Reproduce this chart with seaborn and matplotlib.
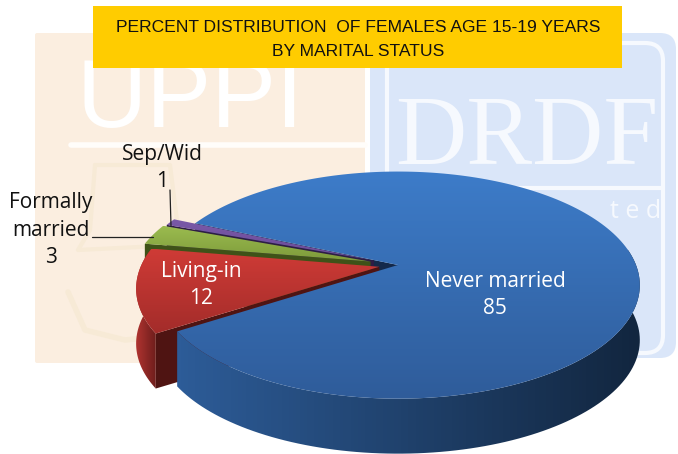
import numpy as np
import seaborn as sns
import matplotlib.pyplot as plt
from matplotlib.patches import Polygon, FancyBboxPatch

# chart data
categories = ['Sep/Wid', 'Formally\nmarried', 'Living-in', 'Never married']
values = [1, 3, 12, 85]
title_lines = ['PERCENT DISTRIBUTION  OF FEMALES AGE 15-19 YEARS', 'BY MARITAL STATUS']

top_colors = [('#7a5aa8', '#6b4a98'), ('#9bbb4f', '#7c9a3a'), ('#cf3b36', '#a32c2a'), ('#3d7cc9', '#2f5c9a')]
wall_colors = [('#4a3268', '#3a2454'), ('#5c7426', '#4c611f'), ('#b03330', '#6e1e1c'), ('#2d5c98', '#12263f')]
cut_colors = ['#2e1d44', '#3f5218', '#4f1412', '#14294a']

# pie geometry on the page, in pixels
CX, CY = 398, 265
AX, SY = 238, 110
PERSP = 0.177
DEPTH = 55
START = 156
EXPLODE = [0.11, 0.12, 0.08, 0.0]

sns.set_theme(style='white')
plt.rcParams['font.family'] = ['Open Sans', 'DejaVu Sans']


def project(x, y):
    w = 1 + PERSP * y
    return np.column_stack([CX + AX * x / w, CY - SY * y / w])


def sector(a0, a1, explode):
    mid = np.radians((a0 + a1) / 2)
    dx, dy = explode * np.cos(mid), explode * np.sin(mid)
    t = np.radians(np.linspace(a0, a1, 200))
    return np.cos(t) + dx, np.sin(t) + dy, dx, dy


def gradient_fill(ax, pts, colors, horizontal=False, zorder=2):
    cmap = sns.blend_palette(colors, n_colors=64, as_cmap=True)
    grad = np.linspace(0, 1, 128)
    grad = grad[None, :] if horizontal else grad[:, None]
    lo, hi = pts.min(axis=0), pts.max(axis=0)
    im = ax.imshow(grad, cmap=cmap, aspect='auto', zorder=zorder,
                   extent=(lo[0], hi[0], hi[1], lo[1]), origin='upper')
    patch = Polygon(pts, closed=True, transform=ax.transData, fc='none', ec='none')
    ax.add_patch(patch)
    im.set_clip_path(patch)


fig = plt.figure(figsize=(6.78, 4.54), dpi=100)
ax = fig.add_axes([0, 0, 1, 1])

# faded logos behind the chart
ax.add_patch(FancyBboxPatch((35, 33), 330, 330, boxstyle='round,pad=0,rounding_size=2',
                            fc='#fbeee0', ec='none', zorder=0))
ax.add_patch(FancyBboxPatch((370, 33), 306, 325, boxstyle='round,pad=0,rounding_size=16',
                            fc='#dae6f9', ec='none', zorder=0))
ax.add_patch(FancyBboxPatch((387, 43), 276, 310, boxstyle='round,pad=0,rounding_size=18',
                            fc='none', ec='#f6f9fe', lw=3, zorder=0.5))
ax.plot([380, 663], [188, 188], color='#f6f9fe', lw=3, zorder=0.5)
ax.plot([71, 365], [145, 145], color='#fffdfa', lw=4, zorder=0.5)
ax.text(190, 102, 'UPPI', color='white', fontsize=70, ha='center', va='center',
        family='Liberation Sans', zorder=0.5)
ax.text(527, 140, 'DRDF', color='#f6f9fe', fontsize=71, ha='center', va='center',
        family='Liberation Serif', zorder=0.5)
ax.text(636, 212, 't e d', color='#f6f9fe', fontsize=18, ha='center', va='center', zorder=0.5)

# outline of the 50 emblem, just a faint trace
ax.plot([95, 90, 78, 180, 170, 100, 95], [165, 230, 250, 245, 165, 165, 165],
        color='#f7ead6', lw=3, zorder=0.5)
ax.plot([68, 85, 125, 145], [292, 330, 340, 338], color='#f7ead6', lw=4, zorder=0.5)

fracs = np.array(values) / sum(values) * 360
starts = START + np.concatenate([[0], np.cumsum(fracs)[:-1]])
shift = np.array([0, DEPTH])

for i in range(len(values)):
    a0, a1 = starts[i], starts[i] + fracs[i]
    x, y, dx, dy = sector(a0, a1, EXPLODE[i])
    z = 3 + i * 2
    outer = project(x, y)
    tip = project(np.array([dx]), np.array([dy]))

    # flat face along the last edge of the slice, seen through the gap
    end = project(x[-1:], y[-1:])
    cut = np.vstack([tip, end, end + shift, tip + shift])
    cut_z = 2 if i == len(values) - 1 else z
    ax.add_patch(Polygon(cut, closed=True, fc=cut_colors[i], ec='none', zorder=cut_z))

    # outer rim
    front = np.sin(np.radians(a0 + (a1 - a0) * np.linspace(0, 1, 200))) < 0.15
    rim = outer[front]
    if len(rim):
        wall = np.vstack([rim, (rim + shift)[::-1]])
        gradient_fill(ax, wall, wall_colors[i], horizontal=True, zorder=z + 0.1)

    # top of the slice
    top = np.vstack([tip, outer])
    gradient_fill(ax, top, top_colors[i], zorder=z + 1)

# title box
ax.add_patch(FancyBboxPatch((93, 6), 529, 62, boxstyle='round,pad=0,rounding_size=0.1',
                            fc='#ffcc00', ec='none', zorder=20))
ax.text(358, 27, title_lines[0], fontsize=12.6, color='#111111', ha='center', va='center',
        family='Liberation Sans', zorder=21)
ax.text(358, 52, title_lines[1], fontsize=12.6, color='#111111', ha='center', va='center',
        family='Liberation Sans', zorder=21)

# labels
ax.text(162, 168, f'{categories[0]}\n{values[0]}', ha='center', va='center', fontsize=15,
        linespacing=1.42, color='#111111', zorder=21)
ax.text(51, 230, f'{categories[1]}\n{values[1]}', ha='center', va='center', fontsize=15,
        linespacing=1.42, color='#111111', zorder=21)
ax.text(201, 285, f'{categories[2]}\n{values[2]}', ha='center', va='center', fontsize=15,
        linespacing=1.42, color='white', zorder=21)
ax.text(495, 295, f'{categories[3]}\n{values[3]}', ha='center', va='center', fontsize=15,
        linespacing=1.42, color='white', zorder=21)

# leader lines
ax.plot([92, 153], [237, 237], color='#222222', lw=0.9, zorder=21)
ax.plot([170, 171], [190, 226], color='#222222', lw=0.9, zorder=21)

ax.set_xlim(0, 678)
ax.set_ylim(454, 0)
ax.axis('off')

fig.savefig('out.png', dpi=100)
